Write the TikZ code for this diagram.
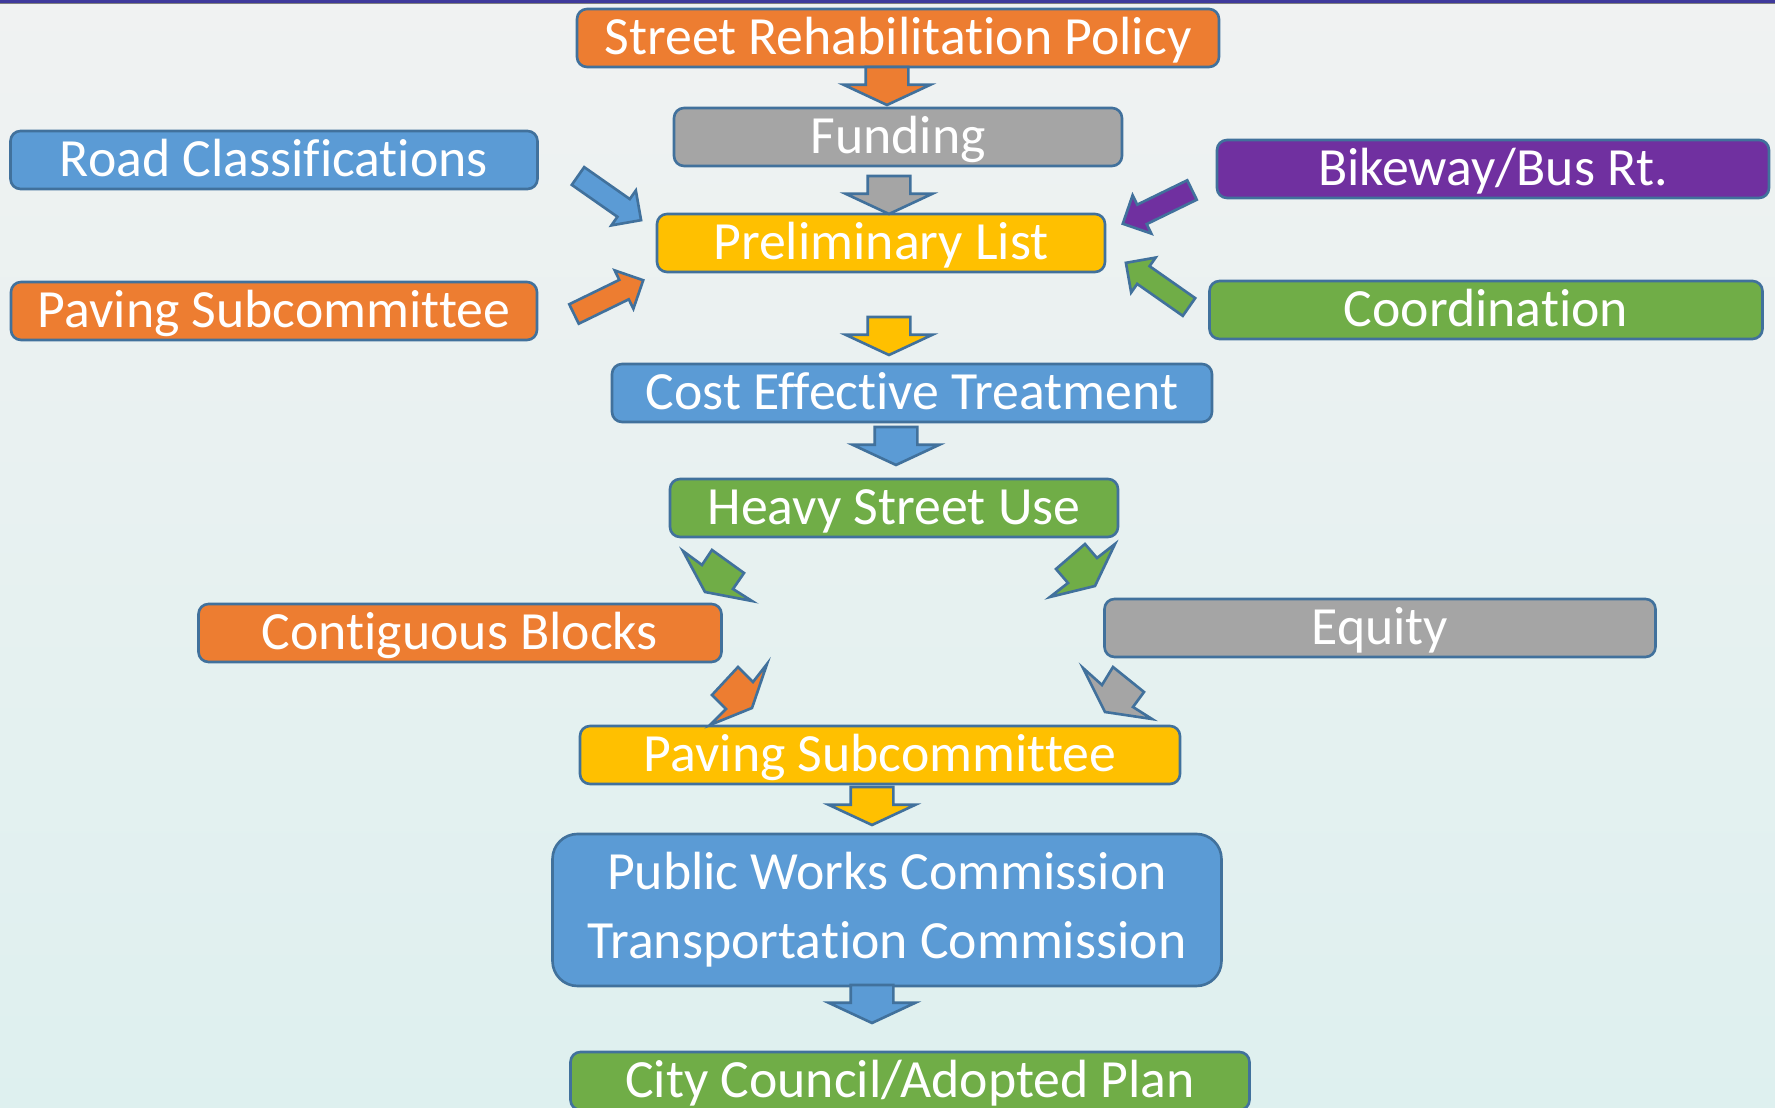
\documentclass[tikz,border=0pt]{standalone}
\usepackage{fontspec}
\setmainfont{Carlito}[Ligatures=NoCommon]
\usetikzlibrary{shapes.arrows}
\definecolor{orj}{HTML}{ED7D31}
\definecolor{gry}{HTML}{A5A5A5}
\definecolor{ylw}{HTML}{FFC000}
\definecolor{blu}{HTML}{5B9BD5}
\definecolor{grn}{HTML}{70AD47}
\definecolor{prp}{HTML}{7030A0}
\definecolor{edge}{HTML}{41719C}
\definecolor{band}{HTML}{3F3A9C}
\definecolor{bgtop}{HTML}{F0F2F2}
\definecolor{bgbot}{HTML}{DEF0EF}
\tikzset{panel/.style={draw=edge,line width=0.75pt,rounded corners=1mm,text=white,inner sep=0pt,outer sep=0pt,minimum height=5.8mm,font=\fontsize{15.3}{19.6}\selectfont},
         box/.style={panel,text height=3.3mm,text depth=0pt},
         down/.style={single arrow,draw=edge,line width=0.75pt,rotate=-90,anchor=tail,inner xsep=0pt,inner ysep=2mm,outer sep=0pt,minimum height=3.8mm,single arrow head extend=2.2mm,single arrow tip angle=130},
         slant/.style={single arrow,draw=edge,line width=0.75pt,anchor=tail,inner xsep=0pt,inner ysep=0.95mm,outer sep=0pt,minimum height=7.7mm,single arrow head extend=1.05mm},
         skew/.style={draw=edge,line width=0.75pt,line join=miter},
        }

\begin{document}
\begin{tikzpicture}[x=0.1mm,y=-0.1mm]
        \clip(0,0)rectangle(1775,1108);
        \fill[top color=bgtop,bottom color=bgbot](0,0)rectangle(1775,1108);
        \fill[band](0,0)rectangle(1775,3);
        \fill[gray](0,3)rectangle(1775,4.5);

        \node[box,fill=orj,minimum width=64.2mm](policy)at(898,38){Street Rehabilitation Policy};
        \node[box,fill=gry,minimum width=44.8mm](funding)at(898,137){Funding};
        \node[box,fill=ylw,minimum width=44.8mm](prelim)at(881,243){Preliminary List};
        \node[box,fill=blu,minimum width=52.7mm](roads)at(274,160){Road Classifications};
        \node[box,fill=orj,minimum width=52.6mm](paveA)at(274,311){Paving Subcommittee};
        \node[box,fill=prp,minimum width=55.2mm](bike)at(1493,169){Bikeway/Bus Rt.};
        \node[box,fill=grn,minimum width=55.3mm](coord)at(1486,310){Coordination};
        \node[box,fill=blu,minimum width=60mm](cost)at(912,393){Cost Effective Treatment};
        \node[box,fill=grn,minimum width=44.8mm](heavy)at(894,508){Heavy Street Use};
        \node[box,fill=orj,minimum width=52.3mm](contig)at(460,633){Contiguous Blocks};
        \node[box,fill=gry,minimum width=55.1mm](equity)at(1380,628){Equity};
        \node[box,fill=ylw,minimum width=60mm](paveB)at(880,755){Paving Subcommittee};
        \node[panel,fill=blu,align=center,rounded corners=2.5mm,minimum width=66.9mm,minimum height=15.2mm](commis)at(887,910){Public Works Commission\\Transportation Commission};
        \node[box,fill=grn,minimum width=67.9mm](council)at(910,1081){City Council/Adopted Plan};

        \node[down,fill=orj](a1)at(887,67){};
        \node[down,fill=gry](a2)at(889,176){};
        \node[down,fill=ylw](a3)at(889,317){};
        \node[down,fill=blu](a4)at(896,427){};
        \node[down,fill=ylw](a5)at(872,787){};
        \node[down,fill=blu](a6)at(872,985){};

        \node[slant,fill=blu,rotate=-35](s1)at(578,176){};
        \node[slant,fill=orj,rotate=26](s2)at(574,314){};
        \node[slant,fill=prp,rotate=206](s3)at(1192,190){};
        \node[slant,fill=grn,rotate=145](s4)at(1189,307){};

        \draw[skew,fill=grn](683,551)--(702,565)--(712,550)--(744,573)--(733,589)--(752,601)--(705,592)--cycle;
        \draw[skew,fill=grn](1085,544)--(1097,558)--(1115,544)--(1095,586)--(1050,597)--(1068,583)--(1056,569)--cycle;
        \draw[skew,fill=orj](738,667)--(753,682)--(767,664)--(752,708)--(710,725)--(726,709)--(712,695)--cycle;
        \draw[skew,fill=gry](1083,668)--(1102,685)--(1113,667)--(1144,692)--(1133,707)--(1152,719)--(1105,712)--cycle;
    \end{tikzpicture}
\end{document}
